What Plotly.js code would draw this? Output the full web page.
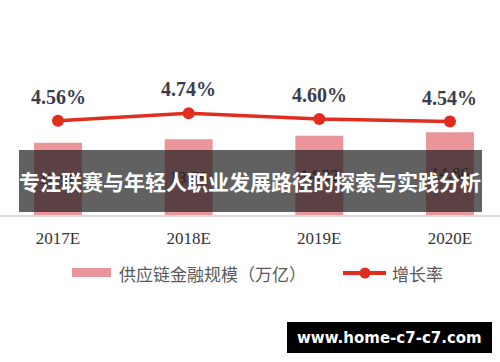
<!DOCTYPE html>
<html>
<head>
<meta charset="utf-8">
<script src="https://cdn.plot.ly/plotly-3.0.1.min.js"></script>
<style>html,body{margin:0;padding:0;background:#fff;}#chart{width:500px;height:362px;}</style>
</head>
<body>
<div id="chart"></div>
<script>
const categories = ['2017E', '2018E', '2019E', '2020E'];
const scaleValues = [12.98, 13.59, 14.22, 14.86];
const scaleLabels = ['12.98', '13.59', '14.22', '14.86'];
const growthRates = [4.56, 4.74, 4.60, 4.54];
const growthLabels = ['4.56%', '4.74%', '4.60%', '4.54%'];
const legendNames = ['供应链金融规模（万亿）', '增长率'];
const bannerText = '专注联赛与年轻人职业发展路径的探索与实践分析';
const watermarkText = 'www.home-c7-c7.com';

const barColor = 'rgb(233,149,153)';
const lineColor = 'rgb(224,45,30)';

const barTrace = {
  type: 'bar', x: categories, y: scaleValues, name: legendNames[0],
  marker: {color: barColor},
  text: scaleLabels, textposition: 'inside', insidetextanchor: 'middle',
  textfont: {family: 'Liberation Serif, serif', size: 17, color: '#333'},
  showlegend: false, hoverinfo: 'skip'
};
const lineTrace = {
  type: 'scatter', mode: 'lines+markers', x: categories, y: growthRates, yaxis: 'y2',
  name: legendNames[1],
  line: {color: lineColor, width: 3.5},
  marker: {color: lineColor, size: 12},
  showlegend: false, hoverinfo: 'skip'
};

const annotations = categories.map((c, i) => ({
  x: c, y: growthRates[i], xref: 'x', yref: 'y2', text: growthLabels[i],
  showarrow: false, yshift: 24,
  font: {family: 'Liberation Serif, serif', size: 20, color: '#3b3b4b', weight: 'bold'}
}));

// custom legend
annotations.push({xref: 'paper', yref: 'paper', x: 117/500, y: -(273-215)/215, xanchor: 'left', yanchor: 'middle',
  text: legendNames[0], showarrow: false, font: {family: 'Noto Sans CJK SC', size: 17, color: '#595959'}});
annotations.push({xref: 'paper', yref: 'paper', x: 390/500, y: -(273-215)/215, xanchor: 'left', yanchor: 'middle',
  text: legendNames[1], showarrow: false, font: {family: 'Noto Sans CJK SC', size: 17, color: '#595959'}});
// banner text
annotations.push({xref: 'paper', yref: 'paper', x: 0.5, y: (215-181)/215, xanchor: 'center', yanchor: 'middle',
  text: '<b>' + bannerText + '</b>', showarrow: false, font: {family: 'Noto Sans CJK SC', size: 21, color: '#ffffff'}});
// watermark text
annotations.push({xref: 'paper', yref: 'paper', x: 389.5/500, y: -(337.5-215)/215, xanchor: 'center', yanchor: 'middle',
  text: '<b>' + watermarkText + '</b>', showarrow: false, font: {family: 'DejaVu Sans', size: 15, color: '#ffffff'}});

const py = v => (215 - v) / 215; // pixel y -> paper y
const shapes = [
  {type: 'rect', xref: 'paper', yref: 'paper', x0: 72/500, x1: 111/500, y0: py(268), y1: py(277), fillcolor: barColor, line: {width: 0}},
  {type: 'line', xref: 'paper', yref: 'paper', x0: 343/500, x1: 386/500, y0: py(273), y1: py(273), line: {color: lineColor, width: 4}},
  {type: 'circle', xref: 'paper', yref: 'paper', x0: 359.5/500, x1: 370.5/500, y0: py(278.5), y1: py(267.5), fillcolor: lineColor, line: {width: 0}},
  {type: 'rect', xref: 'paper', yref: 'paper', x0: 19/500, x1: 482/500, y0: py(212), y1: py(150), fillcolor: 'rgba(30,30,30,0.7)', line: {width: 0}, layer: 'above'},
  {type: 'rect', xref: 'paper', yref: 'paper', x0: 287/500, x1: 492/500, y0: py(353), y1: py(322), fillcolor: '#000000', line: {width: 0}, layer: 'above'}
];

const layout = {
  width: 500, height: 362,
  margin: {l: 0, r: 0, t: 0, b: 147},
  paper_bgcolor: '#ffffff', plot_bgcolor: '#ffffff',
  bargap: 0.633,
  xaxis: {
    type: 'category', range: [-0.444, 3.383], showgrid: false, zeroline: false,
    showline: true, linecolor: '#d9d9d9', linewidth: 2,
    ticks: 'outside', ticklen: 7, tickcolor: 'rgba(0,0,0,0)',
    tickfont: {family: 'Liberation Serif, serif', size: 17, color: '#333'}
  },
  yaxis: {range: [0, 38.6], visible: false, showgrid: false, zeroline: false},
  yaxis2: {range: [2.266, 7.497], overlaying: 'y', visible: false, showgrid: false, zeroline: false},
  annotations: annotations,
  shapes: shapes,
  showlegend: false
};

Plotly.newPlot('chart', [barTrace, lineTrace], layout, {displayModeBar: false, staticPlot: true});
</script>
</body>
</html>
